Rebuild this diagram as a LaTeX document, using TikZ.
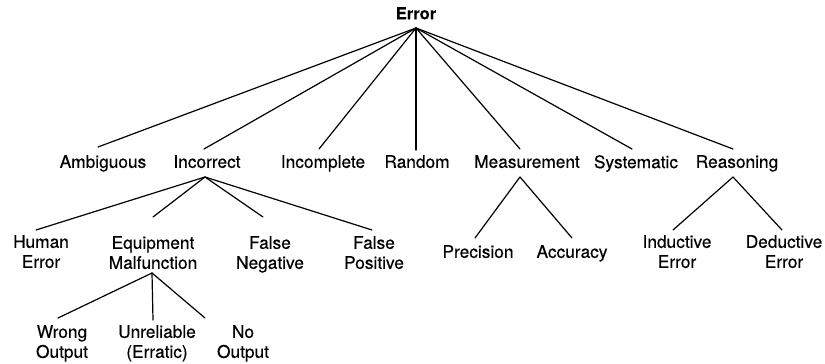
\documentclass[tikz,border=0pt]{standalone}
\usepackage{fontspec}
\setmainfont{TeX Gyre Heros}[FakeBold=0.4]
\begin{document}
\begin{tikzpicture}[x=1pt,y=-1pt,
  lbl/.style={inner sep=0pt, anchor=north, align=center, font=\fontsize{17.3}{20}\selectfont},
  root/.style={inner sep=0pt, anchor=north, font=\bfseries\fontsize{16.5}{19}\selectfont},
  edge/.style={line width=1.2pt, line cap=round}]
\useasboundingbox (0,0) rectangle (825,364);
% root
\node[root] (err) at (416,7) {Error};
% level 1
\node[lbl] (amb) at (103,155) {Ambiguous};
\node[lbl] (inc) at (207,155) {Incorrect};
\node[lbl] (icp) at (323,155) {Incomplete};
\node[lbl] (ran) at (417,155) {Random};
\node[lbl] (mea) at (527,155) {Measurement};
\node[lbl] (sys) at (636,155) {Systematic};
\node[lbl] (rea) at (737,155) {Reasoning};
% level 2
\node[lbl] (hum) at (41,235) {Human\\Error};
\node[lbl] (equ) at (153,236) {Equipment\\Malfunction};
\node[lbl] (fne) at (270,236) {False\\Negative};
\node[lbl] (fpo) at (374,236) {False\\Positive};
\node[lbl] (pre) at (478,245) {Precision};
\node[lbl] (acc) at (572,245) {Accuracy};
\node[lbl] (ind) at (677,235) {Inductive\\Error};
\node[lbl] (ded) at (784,235) {Deductive\\Error};
% level 3
\node[lbl] (wro) at (62,325) {Wrong\\Output};
\node[lbl] (unr) at (157,325) {Unreliable\\(Erratic)};
\node[lbl] (noo) at (243,325) {No\\Output};
% connectors from Error
\draw[edge] ([shift={(0,21)}]err.north) -- ([shift={(-5,-8)}]amb.north);
\draw[edge] ([shift={(0,21)}]err.north) -- ([shift={(-3,-6)}]inc.north);
\draw[edge] ([shift={(0,21)}]err.north) -- ([shift={(-4,-6)}]icp.north);
\draw[edge] ([shift={(0,21)}]err.north) -- ([shift={(-1,-5)}]ran.north);
\draw[edge] ([shift={(0,21)}]err.north) -- ([shift={(-7,-6)}]mea.north);
\draw[edge] ([shift={(0,21)}]err.north) -- ([shift={(-4,-6)}]sys.north);
\draw[edge] ([shift={(0,21)}]err.north) -- ([shift={(-4,-6)}]rea.north);
% Incorrect
\draw[edge] ([shift={(-2,22)}]inc.north) -- ([shift={(-5,-5)}]hum.north);
\draw[edge] ([shift={(-2,22)}]inc.north) -- ([shift={(0,-19)}]equ.north);
\draw[edge] ([shift={(-2,22)}]inc.north) -- ([shift={(-7,-19)}]fne.north);
\draw[edge] ([shift={(-2,22)}]inc.north) -- ([shift={(-2,-6)}]fpo.north);
% Equipment Malfunction
\draw[edge] ([shift={(-1,37)}]equ.north) -- ([shift={(-4,-7)}]wro.north);
\draw[edge] ([shift={(-1,37)}]equ.north) -- ([shift={(-4,-5)}]unr.north);
\draw[edge] ([shift={(-1,37)}]equ.north) -- ([shift={(-38,-7)}]noo.north);
% Measurement
\draw[edge] ([shift={(-7,22)}]mea.north) -- ([shift={(-3,-7)}]pre.north);
\draw[edge] ([shift={(-7,22)}]mea.north) -- ([shift={(0,-7)}]acc.north);
% Reasoning
\draw[edge] ([shift={(-4,22)}]rea.north) -- ([shift={(-4,-5)}]ind.north);
\draw[edge] ([shift={(-4,22)}]rea.north) -- ([shift={(-2,-5)}]ded.north);
\end{tikzpicture}
\end{document}
